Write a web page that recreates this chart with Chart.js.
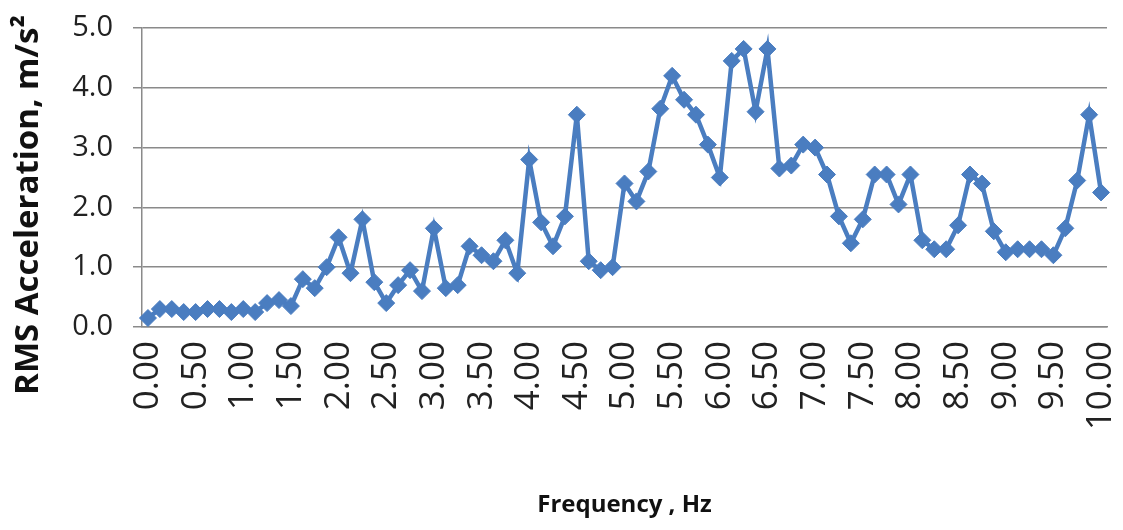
<!DOCTYPE html>
<html>
<head>
    <meta charset="UTF-8">
    <title>RMS Acceleration Chart</title>
    <script src="https://cdn.jsdelivr.net/npm/chart.js"></script>
    <style>
        html, body { margin: 0; padding: 0; background: #fff; }
        #wrap { width: 1123px; height: 530px; }
    </style>
</head>
<body>
    <div id="wrap">
        <canvas id="rmsChart" width="1123" height="530"></canvas>
    </div>

<script>
        // frequency categories, Hz
        const freqs = [
            0, 0.125, 0.25, 0.375, 0.5, 0.625, 0.75, 0.875,
            1, 1.125, 1.25, 1.375, 1.5, 1.625, 1.75, 1.875,
            2, 2.125, 2.25, 2.375, 2.5, 2.625, 2.75, 2.875,
            3, 3.125, 3.25, 3.375, 3.5, 3.625, 3.75, 3.875,
            4, 4.125, 4.25, 4.375, 4.5, 4.625, 4.75, 4.875,
            5, 5.125, 5.25, 5.375, 5.5, 5.625, 5.75, 5.875,
            6, 6.125, 6.25, 6.375, 6.5, 6.625, 6.75, 6.875,
            7, 7.125, 7.25, 7.375, 7.5, 7.625, 7.75, 7.875,
            8, 8.125, 8.25, 8.375, 8.5, 8.625, 8.75, 8.875,
            9, 9.125, 9.25, 9.375, 9.5, 9.625, 9.75, 9.875,
            10
        ];

        // RMS acceleration, m/s2
        const rmsAccel = [
            0.15, 0.3, 0.3, 0.25, 0.25, 0.3, 0.3, 0.25, 0.3, 0.25,
            0.4, 0.45, 0.35, 0.8, 0.65, 1.0, 1.5, 0.9, 1.8, 0.75,
            0.4, 0.7, 0.95, 0.6, 1.65, 0.65, 0.7, 1.35, 1.2, 1.1,
            1.45, 0.9, 2.8, 1.75, 1.35, 1.85, 3.55, 1.1, 0.95, 1.0,
            2.4, 2.1, 2.6, 3.65, 4.2, 3.8, 3.55, 3.05, 2.5, 4.45,
            4.65, 3.6, 4.65, 2.65, 2.7, 3.05, 3.0, 2.55, 1.85, 1.4,
            1.8, 2.55, 2.55, 2.05, 2.55, 1.45, 1.3, 1.3, 1.7, 2.55,
            2.4, 1.6, 1.25, 1.3, 1.3, 1.3, 1.2, 1.65, 2.45, 3.55,
            2.25
        ];

        const xTickLabels = ['0.00', '0.50', '1.00', '1.50', '2.00', '2.50', '3.00', '3.50', '4.00', '4.50',
            '5.00', '5.50', '6.00', '6.50', '7.00', '7.50', '8.00', '8.50', '9.00', '9.50', '10.00'];
        const yTickLabels = ['0.0', '1.0', '2.0', '3.0', '4.0', '5.0'];

        const yTitle = 'RMS Acceleration, m/s\u00B2';
        const xTitle = 'Frequency , Hz';

        const fam = '"Open Sans", sans-serif';

        // y title is drawn by hand so it can sit a bit lower than the plot centre
        const yTitlePlugin = {
            id: 'yTitle',
            afterDraw(chart) {
                const ctx = chart.ctx;
                ctx.save();
                ctx.translate(29, 205);
                ctx.rotate(-Math.PI / 2);
                ctx.font = 'bold 33px ' + fam;
                ctx.fillStyle = '#111';
                ctx.textAlign = 'center';
                ctx.textBaseline = 'middle';
                ctx.fillText(yTitle, 0, 0);
                ctx.restore();
            }
        };

        function createChart() {
            var ctx = document.getElementById('rmsChart').getContext('2d');
            var rmsChart = new Chart(ctx, {
                type: 'line',
                data: {
                    labels: freqs,
                    datasets: [{
                        label: 'RMS Acceleration',
                        data: rmsAccel,
                        borderColor: '#4A7DC0',
                        backgroundColor: '#4A7DC0',
                        borderWidth: 4.5,
                        tension: 0,
                        pointStyle: 'rectRot',
                        pointRadius: 8.5,
                        pointBorderWidth: 1,
                        pointBackgroundColor: '#4A7DC0',
                        pointBorderColor: '#4A7DC0'
                    }]
                },
                plugins: [yTitlePlugin],
                options: {
                    responsive: false,
                    animation: false,
                    layout: { padding: { left: 0, right: 16, top: 28, bottom: 0 } },
                    plugins: {
                        legend: { display: false },
                        tooltip: { enabled: false }
                    },
                    scales: {
                        x: {
                            offset: true,
                            grid: { display: false, drawTicks: false },
                            border: { display: true, color: '#8a8a8a', width: 1.5 },
                            ticks: {
                                autoSkip: false,
                                maxRotation: 90,
                                minRotation: 90,
                                padding: 14,
                                color: '#222',
                                font: { family: fam, size: 35 },
                                callback: function (value, index) {
                                    return index % 4 === 0 ? xTickLabels[index / 4] : '';
                                }
                            },
                            title: {
                                display: true,
                                text: xTitle,
                                color: '#111',
                                font: { family: fam, size: 24, weight: 'bold' },
                                padding: { top: 0, bottom: 10 }
                            },
                            afterFit: function (scale) {
                                scale.height = 203;
                                scale.paddingLeft = 0;
                                scale.paddingRight = 0;
                            }
                        },
                        y: {
                            min: 0,
                            max: 5,
                            ticks: {
                                stepSize: 1,
                                padding: 20,
                                color: '#222',
                                font: { family: fam, size: 29 },
                                callback: function (value, index) { return yTickLabels[index]; }
                            },
                            grid: { color: '#8a8a8a', lineWidth: 1.5, tickLength: 9 },
                            border: { display: true, color: '#8a8a8a', width: 1.5 },
                            afterFit: function (scale) {
                                scale.width = 142;
                                scale.paddingTop = 0;
                                scale.paddingBottom = 0;
                            }
                        }
                    }
                }
            });
        }
        createChart();
    </script>
</body>
</html>
